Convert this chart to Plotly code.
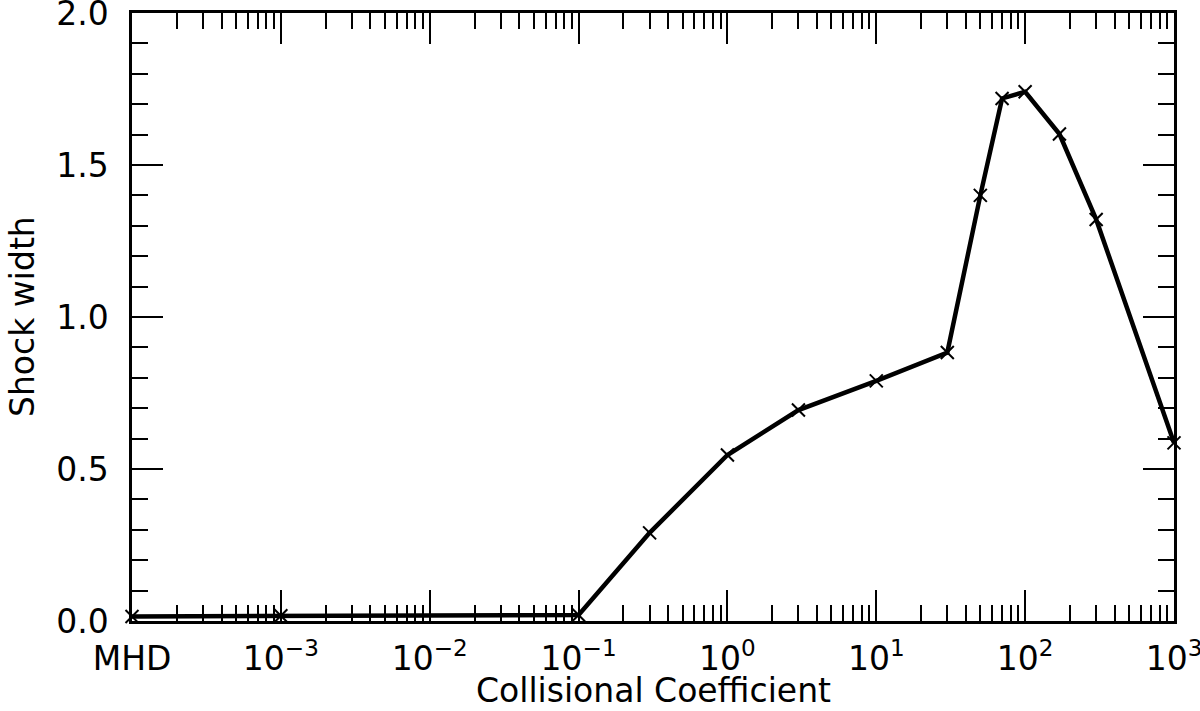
import numpy as np
import plotly.graph_objects as go

coef = [1e-4, 1e-3, 1e-1, 0.3, 1, 3, 10, 30, 50, 70, 100, 170, 300, 1000]
width = [0.015, 0.017, 0.02, 0.29, 0.546, 0.694, 0.79, 0.883, 1.40, 1.719, 1.741, 1.602, 1.321, 0.586]

major_x = [1e-4, 1e-3, 1e-2, 1e-1, 1, 10, 100, 1000]
major_x_text = ["MHD", "10<sup>\u22123</sup>", "10<sup>\u22122</sup>", "10<sup>\u22121</sup>",
                "10<sup>0</sup>", "10<sup>1</sup>", "10<sup>2</sup>", "10<sup>3</sup>"]
minor_x = [m * d for d in [1e-4, 1e-3, 1e-2, 1e-1, 1, 10, 100] for m in range(2, 10)]
major_y = [0.0, 0.5, 1.0, 1.5, 2.0]
major_y_text = ["0.0", "0.5", "1.0", "1.5", "2.0"]
minor_y = [round(0.1 * i, 1) for i in range(21) if i % 5 != 0]

fig = go.Figure()
fig.add_trace(go.Scatter(
    x=coef, y=width, mode="lines+markers",
    line=dict(color="black", width=4.5),
    marker=dict(symbol="x-thin", size=13, line=dict(color="black", width=2), color="black"),
    cliponaxis=False, showlegend=False, hoverinfo="skip",
))

font = dict(family="DejaVu Sans", size=33, color="black")
fig.update_layout(
    width=1200, height=711,
    margin=dict(l=132, r=26, t=13, b=90),
    plot_bgcolor="white", paper_bgcolor="white",
    font=font,
    xaxis=dict(
        type="log", range=[-4, 3], automargin=False,
        tickmode="array", tickvals=major_x, ticktext=major_x_text,
        ticks="inside", ticklen=31, tickwidth=2, tickcolor="black",
        minor=dict(tickmode="array", tickvals=minor_x, ticks="inside", ticklen=16,
                   tickwidth=2, tickcolor="black", showgrid=False),
        showline=True, linecolor="black", linewidth=2.5, mirror="allticks",
        showgrid=False, zeroline=False, ticklabelstandoff=7,
        ticklabeloverflow="allow",
        tickfont=font,
    ),
    yaxis=dict(
        range=[0, 2], automargin=False,
        tickmode="array", tickvals=major_y, ticktext=major_y_text,
        ticks="inside", ticklen=31, tickwidth=2, tickcolor="black",
        minor=dict(tickmode="array", tickvals=minor_y, ticks="inside", ticklen=16,
                   tickwidth=2, tickcolor="black", showgrid=False),
        showline=True, linecolor="black", linewidth=2.5, mirror="allticks",
        showgrid=False, zeroline=False, ticklabelstandoff=14,
        ticklabeloverflow="allow",
        tickfont=font,
    ),
    annotations=[
        dict(text="Collisional Coefficient", xref="paper", yref="paper", x=0.5, y=0,
             yshift=-69, xanchor="center", yanchor="middle", showarrow=False, font=font),
        dict(text="Shock width", xref="paper", yref="paper", x=0, y=0.5,
             xshift=-110, xanchor="center", yanchor="middle", textangle=-90,
             showarrow=False, font=font),
    ],
)

fig.write_html("out.html", config={"displayModeBar": False},
               post_script="document.body.style.margin='0px';")
